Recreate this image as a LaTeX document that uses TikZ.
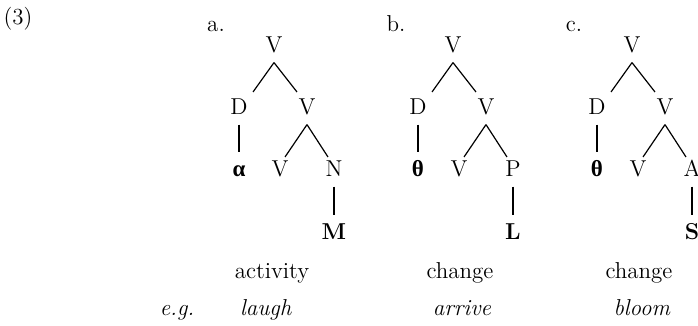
\documentclass[tikz,border=0pt]{standalone}
\usepackage{fontspec}
\usepackage{tikz}
\newfontfamily\greekfont{Liberation Serif}

\tikzset{
  cat/.style={anchor=base, inner sep=4.5pt, text height=7.8pt, text depth=0pt},
  gloss/.style={anchor=base, inner sep=0pt},
}

\begin{document}
\begin{tikzpicture}[x=0.5pt, y=-0.5pt, line width=0.6pt, every node/.style={font=\fontsize{11.5}{13}\selectfont}]
  \useasboundingbox (0,0) rectangle (698,326);

  % === example number and e.g. ===
  \node[gloss] (num) at (18,25) {(3)};
  \node[gloss] (eg) at (177,316) {\textit{e.g.}};

  % === tree a: activity ===
  \begin{scope}[shift={(274,0)}]
    \node[gloss] (a-lab) at (-58,32) {a.};
    \node[cat] (a-r) at (0,53) {V};
    \node[cat] (a-d) at (-35,115) {D};
    \node[cat] (a-v) at (33,115) {V};
    \node[cat] (a-x) at (-35,177) {\greekfont\bfseries α};
    \node[cat] (a-lv) at (6,177) {V};
    \node[cat] (a-n) at (60,177) {N};
    \node[cat] (a-m) at (60,240) {\textbf{M}};

    % feet of the branches
    \coordinate (a-f1) at (-21,92);
    \coordinate (a-f2) at (23,92);
    \coordinate (a-f3) at (11,157);
    \coordinate (a-f4) at (54,157);
    \draw (a-r.south) -- (a-f1);
    \draw (a-r.south) -- (a-f2);
    \draw (a-d.south) -- (a-x.north);
    \draw (a-v.south) -- (a-f3);
    \draw (a-v.south) -- (a-f4);
    \draw (a-n.south) -- (a-m.north);

    \node[gloss] (a-cat) at (-2,279) {activity};
    \node[gloss] (a-ex) at (-8,316) {\textit{laugh}};
  \end{scope}

  % === tree b: change ===
  \begin{scope}[shift={(453,0)}]
    \node[gloss] (b-lab) at (-57,32) {b.};
    \node[cat] (b-r) at (0,53) {V};
    \node[cat] (b-d) at (-35,115) {D};
    \node[cat] (b-v) at (33,115) {V};
    \node[cat] (b-x) at (-35,177) {\greekfont\bfseries θ};
    \node[cat] (b-lv) at (6,177) {V};
    \node[cat] (b-p) at (60,177) {P};
    \node[cat] (b-l) at (60,240) {\textbf{L}};

    % feet of the branches
    \coordinate (b-f1) at (-21,92);
    \coordinate (b-f2) at (23,92);
    \coordinate (b-f3) at (11,157);
    \coordinate (b-f4) at (54,157);
    \draw (b-r.south) -- (b-f1);
    \draw (b-r.south) -- (b-f2);
    \draw (b-d.south) -- (b-x.north);
    \draw (b-v.south) -- (b-f3);
    \draw (b-v.south) -- (b-f4);
    \draw (b-p.south) -- (b-l.north);

    \node[gloss] (b-cat) at (7,279) {change};
    \node[gloss] (b-ex) at (9,316) {\textit{arrive}};
  \end{scope}

  % === tree c: change ===
  \begin{scope}[shift={(632,0)}]
    \node[gloss] (c-lab) at (-58,32) {c.};
    \node[cat] (c-r) at (0,53) {V};
    \node[cat] (c-d) at (-35,115) {D};
    \node[cat] (c-v) at (33,115) {V};
    \node[cat] (c-x) at (-35,177) {\greekfont\bfseries θ};
    \node[cat] (c-lv) at (6,177) {V};
    \node[cat] (c-a) at (60,177) {A};
    \node[cat] (c-s) at (60,240) {\textbf{S}};

    % feet of the branches
    \coordinate (c-f1) at (-21,92);
    \coordinate (c-f2) at (23,92);
    \coordinate (c-f3) at (11,157);
    \coordinate (c-f4) at (54,157);
    \draw (c-r.south) -- (c-f1);
    \draw (c-r.south) -- (c-f2);
    \draw (c-d.south) -- (c-x.north);
    \draw (c-v.south) -- (c-f3);
    \draw (c-v.south) -- (c-f4);
    \draw (c-a.south) -- (c-s.north);

    \node[gloss] (c-cat) at (7,279) {change};
    \node[gloss] (c-ex) at (10,316) {\textit{bloom}};
  \end{scope}
\end{tikzpicture}
\end{document}
